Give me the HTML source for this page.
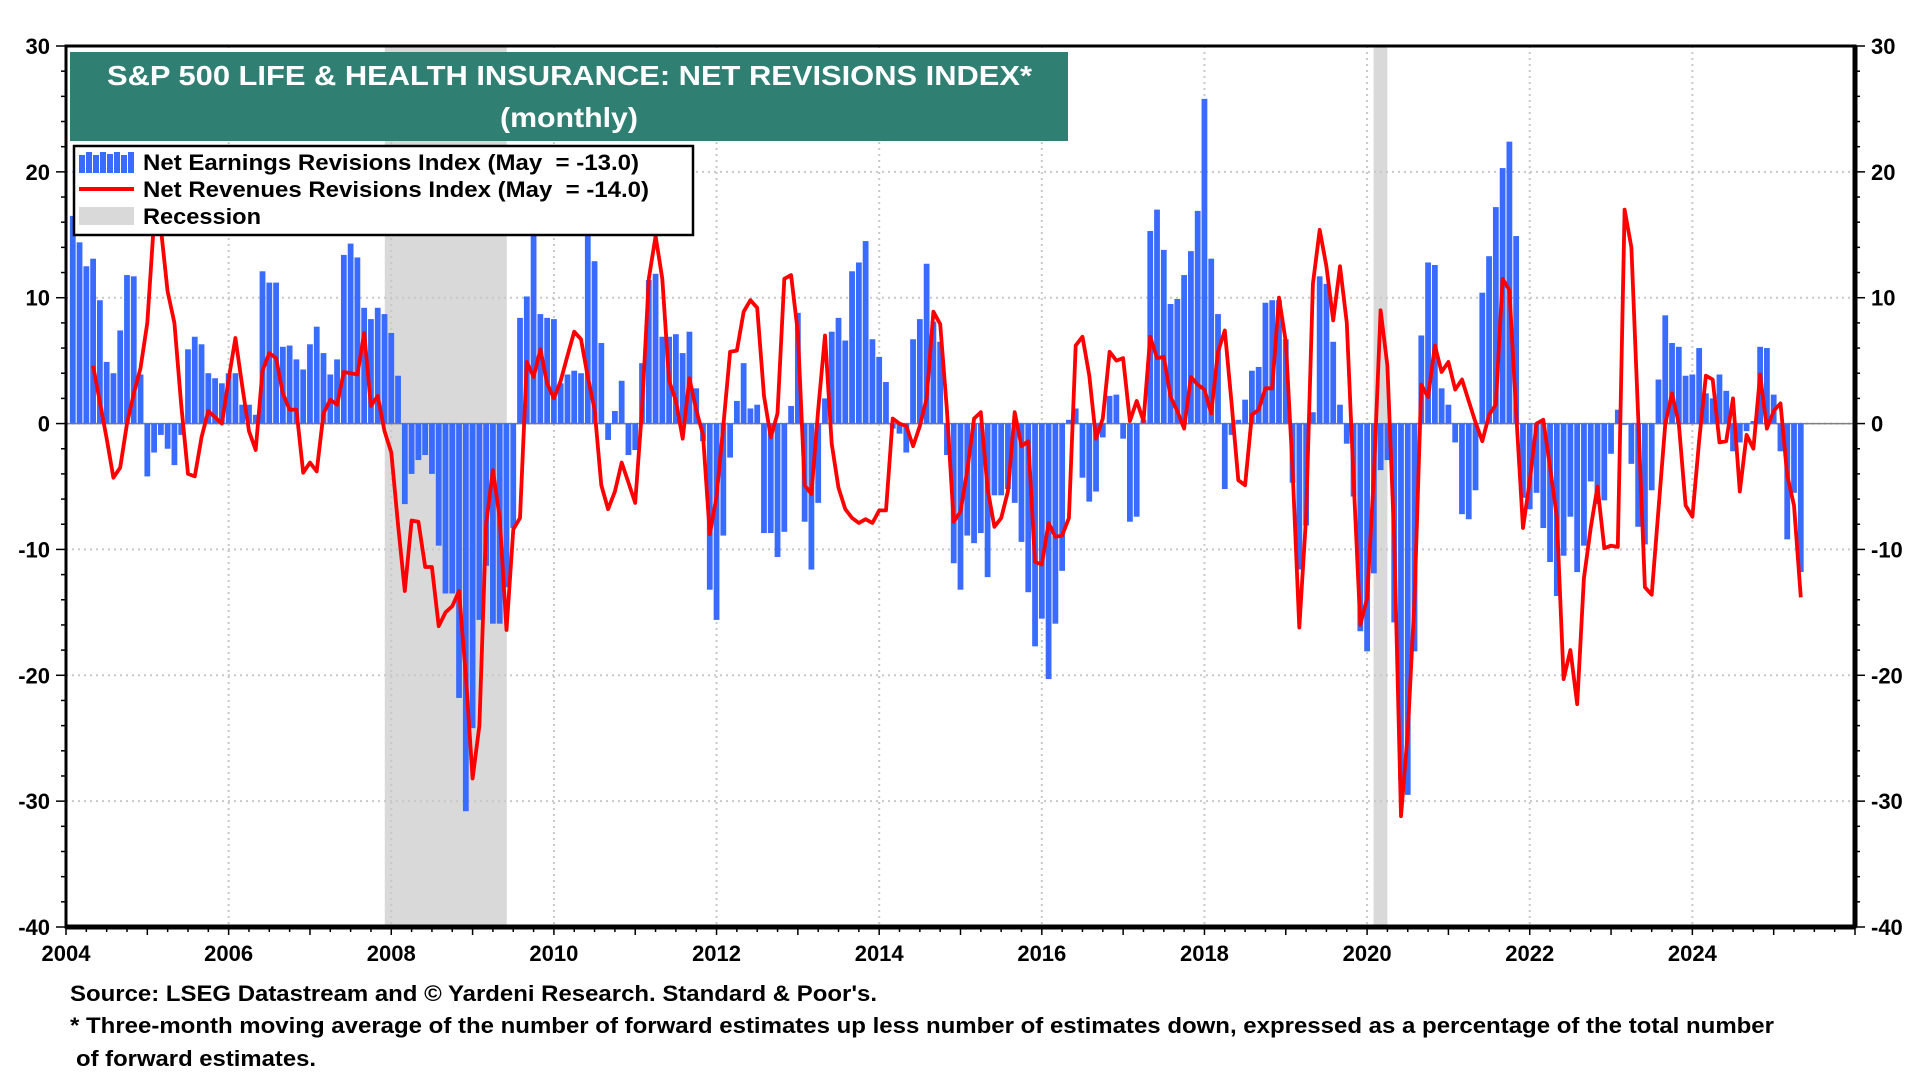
<!DOCTYPE html>
<html><head><meta charset="utf-8"><style>
html,body{margin:0;padding:0;background:#fff;}
svg{display:block;font-family:"Liberation Sans",Arial,sans-serif;}
</style></head><body>
<svg id="chart" width="1920" height="1080" viewBox="0 0 1920 1080">
<g id="recessions"></g>
<g id="grid"></g>
<line id="zeroline" stroke="#808080" stroke-width="1.5"/>
<g id="bars"></g>
<path id="revline" fill="none" stroke="#ff0000" stroke-width="3.8" stroke-linejoin="round"/>
<g id="axes"></g>
<g>
<rect x="70" y="52" width="998" height="89" fill="#2f7f72"/>
<text x="107" y="85" textLength="925" lengthAdjust="spacingAndGlyphs" fill="#fff" font-weight="bold" font-size="28">S&amp;P 500 LIFE &amp; HEALTH INSURANCE: NET REVISIONS INDEX*</text>
<text x="500" y="127" textLength="138" lengthAdjust="spacingAndGlyphs" fill="#fff" font-weight="bold" font-size="28">(monthly)</text>
</g>
<g>
<rect x="74" y="146" width="619" height="89" fill="#fff" stroke="#000" stroke-width="2.5"/>
<g fill="#3a6bff">
<rect x="79" y="155" width="6" height="18"/><rect x="86" y="152" width="6" height="21"/><rect x="93" y="155" width="6" height="18"/><rect x="100" y="152" width="6" height="21"/><rect x="107" y="154" width="6" height="19"/><rect x="114" y="152" width="6" height="21"/><rect x="121" y="155" width="6" height="18"/><rect x="128" y="152" width="6" height="21"/>
</g>
<text x="143" y="170" textLength="496" lengthAdjust="spacingAndGlyphs" font-weight="bold" font-size="22">Net Earnings Revisions Index (May &#160;= -13.0)</text>
<line x1="79" y1="189" x2="134" y2="189" stroke="#ff0000" stroke-width="4"/>
<text x="143" y="197" textLength="506" lengthAdjust="spacingAndGlyphs" font-weight="bold" font-size="22">Net Revenues Revisions Index (May &#160;= -14.0)</text>
<rect x="79" y="207" width="55" height="18" fill="#d9d9d9"/>
<text x="143" y="224" textLength="118" lengthAdjust="spacingAndGlyphs" font-weight="bold" font-size="22">Recession</text>
</g>
<g font-weight="bold" font-size="22">
<text x="70" y="1001" textLength="807" lengthAdjust="spacingAndGlyphs">Source: LSEG Datastream and © Yardeni Research. Standard &amp; Poor's.</text>
<text x="70" y="1033" textLength="1704" lengthAdjust="spacingAndGlyphs">* Three-month moving average of the number of forward estimates up less number of estimates down, expressed as a percentage of the total number</text>
<text x="76" y="1066" textLength="240" lengthAdjust="spacingAndGlyphs">of forward estimates.</text>
</g>
</svg>
<script>
// Data (monthly). earnings starts at month index 1 (Feb 2004); revenues starts at index 4.
const earnStart = 1;
const earnings = [16.5,14.4,12.5,13.1,9.8,4.9,4.0,7.4,11.8,11.7,3.9,-4.2,-2.3,-0.9,-2.0,-3.3,-0.9,5.9,6.9,6.3,4.0,3.6,3.2,4.0,4.0,1.5,1.5,0.7,12.1,11.2,11.2,6.1,6.2,5.1,4.3,6.3,7.7,5.6,3.9,5.1,13.4,14.3,13.2,9.2,8.3,9.2,8.7,7.2,3.8,-6.4,-4.0,-2.9,-2.5,-4.0,-9.7,-13.5,-13.5,-21.8,-30.8,-24.2,-15.6,-11.3,-15.9,-15.9,-13,-8.3,8.4,10.1,15.1,8.7,8.4,
8.3,3.2,3.9,4.2,4.0,15.5,12.9,6.4,-1.3,1.0,3.4,-2.5,-2.1,4.8,11.4,11.9,6.9,6.9,7.1,5.6,7.3,2.8,-1.4,-13.2,-15.6,-8.9,-2.7,1.8,4.8,1.2,1.5,-8.7,-8.7,-10.6,-8.6,1.4,8.8,-7.8,-11.6,-6.3,2.0,7.3,8.4,6.6,12.1,12.8,14.5,6.7,5.3,3.3,-0.4,-0.8,-2.3,6.7,8.3,12.7,8.1,6.5,-2.5,-11.1,-13.2,-8.9,-9.5,-8.7,
-12.2,-5.7,-5.7,-5.2,-6.3,-9.4,-13.4,-17.7,-15.5,-20.3,-15.9,-11.7,0.3,1.2,-4.3,-6.2,-5.4,-1.1,2.2,2.3,-1.2,-7.8,-7.4,0.3,15.3,17.0,13.8,9.5,9.9,11.8,13.7,16.9,25.8,13.1,8.7,-5.2,-0.9,0.3,1.9,4.2,4.5,9.6,9.8,9.8,6.7,-4.7,-11.6,-8.1,0.9,11.7,11.1,6.5,1.5,-1.6,-5.8,-16.5,-18.1,-11.9,-3.7,-2.9,-15.8,-28.3,-29.5,-18.1,
7.0,12.8,12.6,2.8,1.5,-1.5,-7.2,-7.6,-5.3,10.4,13.3,17.2,20.3,22.4,14.9,-5.9,-6.8,-5.5,-8.3,-11.0,-13.7,-10.5,-7.4,-11.8,-9.7,-4.6,-6.4,-6.1,-2.4,1.1,-0.1,-3.2,-8.2,-9.6,-5.3,3.5,8.6,6.4,6.1,3.8,3.9,6.0,2.4,2.0,3.9,2.6,-2.2,-1.5,-0.6,0.2,6.1,6.0,2.3,-2.2,-9.2,-5.5,-11.8];
const revStart = 4;
const revenues = [4.6,1.7,-1.2,-4.3,-3.5,0,2.4,4.4,8.0,16.2,15.5,10.5,8,1.5,-4.0,-4.2,-1.1,1.0,0.5,0,3.5,6.8,3.0,-0.6,-2.1,4.2,5.6,5.2,2.4,1.1,1.1,-3.9,-3.1,-3.8,0.8,1.9,1.5,4.1,4.0,3.9,7.2,1.4,2.2,-0.6,-2.3,-8,-13.3,-7.7,-7.8,-11.4,-11.4,-16.1,-15,-14.5,-13.3,-20,-28.2,-24,-8,-3.7,-7.5,-16.4,-8.4,-7.5,
4.9,3.7,5.9,3.2,2.0,3.4,5.4,7.3,6.7,3.7,1.1,-4.9,-6.8,-5.4,-3.1,-4.7,-6.3,1.1,11.5,14.9,11.5,3.4,1.8,-1.2,3.6,1.1,-0.9,-8.8,-5.8,-0.2,5.7,5.8,8.9,9.8,9.2,2.2,-1.1,0.8,11.5,11.8,7.2,-4.9,-5.6,1.1,7.0,-1.6,-5.1,-6.8,-7.5,-7.9,-7.6,-7.9,-6.9,-6.9,0.4,0.0,-0.2,-1.8,-0.2,2.0,8.9,7.9,1.1,-7.8,-7.0,-3.7,0.4,
0.9,-5.2,-8.2,-7.5,-5.4,0.9,-1.8,-1.4,-11.0,-11.2,-7.9,-9.0,-8.9,-7.5,6.2,6.9,3.8,-1.2,0.4,5.7,5.0,5.2,0.2,1.8,0.2,6.9,5.2,5.3,2.1,1.0,-0.4,3.7,3.1,2.7,0.8,5.7,7.4,1.6,-4.5,-4.9,0.7,1.1,2.8,2.8,10.0,6.5,-3.5,-16.2,-7.4,11.1,15.4,12.5,8.2,12.5,8.0,-4.3,-16.0,-13.9,-4.1,9.0,4.6,-9.1,-31.2,-24.5,
-14,3.1,2.1,6.2,4.1,4.9,2.7,3.5,1.8,0.1,-1.4,0.7,1.5,11.5,10.6,0.8,-8.3,-4.6,0.0,0.3,-3.5,-7.4,-20.3,-18.0,-22.3,-12.3,-8.3,-5.0,-9.9,-9.7,-9.8,17.0,14.0,0.5,-13.0,-13.6,-6.8,0.0,2.4,0.0,-6.5,-7.4,-1.4,3.8,3.5,-1.5,-1.4,2.0,-5.4,-0.9,-2.0,3.9,-0.4,1.0,1.6,-4.1,-6.5,-13.8];
const recessionStarts = [2007.92, 2020.08];
const recessionEnds = [2009.42, 2020.25];
const yTicks = [30,20,10,0,-10,-20,-30,-40];
const xTickYears = [2004,2006,2008,2010,2012,2014,2016,2018,2020,2022,2024];

const L=66,R=1855,T=46,B=927,X0=2004,X1=2026,Y0=-40,Y1=30;
const NS='http://www.w3.org/2000/svg';
function xs(t){return L+(t-X0)/(X1-X0)*(R-L);}
function ys(v){return B-(v-Y0)/(Y1-Y0)*(B-T);}
function mk(tag,attrs,parent){const e=document.createElementNS(NS,tag);for(const k in attrs)e.setAttribute(k,attrs[k]);parent.appendChild(e);return e;}

const rec=document.getElementById('recessions');
recessionStarts.forEach((s,i)=>{
  const r=mk('rect',{x:xs(s),y:T,width:xs(recessionEnds[i])-xs(s),height:B-T,fill:'#d9d9d9'},rec);
  
  
});

const grid=document.getElementById('grid');
yTicks.forEach(v=>{
  if(v===Y0||v===Y1)return;
  const g=mk('line',{x1:L,x2:R,y1:ys(v),y2:ys(v),stroke:'#c8c8c8','stroke-width':2,'stroke-dasharray':'2,4'},grid);
  
  
});
xTickYears.forEach(y=>{
  if(y===X0)return;
  const g=mk('line',{x1:xs(y),x2:xs(y),y1:T,y2:B,stroke:'#c8c8c8','stroke-width':2,'stroke-dasharray':'2,4'},grid);
  
  
});

const zl=document.getElementById('zeroline');
zl.setAttribute('x1',L);zl.setAttribute('x2',R);zl.setAttribute('y1',ys(0));zl.setAttribute('y2',ys(0));

const bars=document.getElementById('bars');
const bw=(R-L)/((X1-X0)*12);
earnings.forEach((v,i)=>{
  const t=X0+(earnStart+i)/12;
  const cx=xs(t);
  const y=Math.min(ys(v),ys(0)),h=Math.abs(ys(v)-ys(0));
  const b=mk('rect',{x:cx-bw/2+0.5,y:y,width:bw-1,height:Math.max(h,1),fill:'#3a6bff'},bars);
  
  
});

let d='';
revenues.forEach((v,i)=>{
  const t=X0+(revStart+i)/12;
  d+=(i?'L':'M')+xs(t).toFixed(1)+','+ys(v).toFixed(1);
});
document.getElementById('revline').setAttribute('d',d);

const ax=document.getElementById('axes');
mk('rect',{x:L,y:T,width:R-L,height:B-T,fill:'none',stroke:'#000','stroke-width':3},ax);
mk('line',{x1:R,x2:R,y1:T,y2:B,stroke:'#000','stroke-width':5},ax);
mk('line',{x1:L,x2:R,y1:B,y2:B,stroke:'#000','stroke-width':5},ax);
for(let v=Y0;v<=Y1;v+=2){
  const len=(v%10===0)?10:5;
  mk('line',{x1:L-len,x2:L,y1:ys(v),y2:ys(v),stroke:'#000','stroke-width':1.5},ax);
  mk('line',{x1:R,x2:R+len,y1:ys(v),y2:ys(v),stroke:'#000','stroke-width':1.5},ax);
}
for(let q=0;q<=(X1-X0)*4;q++){
  const x=xs(X0+q/4);
  mk('line',{x1:x,x2:x,y1:B,y2:B+(q%4===0?8:5),stroke:'#000','stroke-width':1.5},ax);
}
yTicks.forEach(v=>{
  const a=mk('text',{x:L-16,y:ys(v)+8,'text-anchor':'end','font-size':22,'font-weight':'bold'},ax);
  a.textContent=v;
  
  
  const b=mk('text',{x:R+16,y:ys(v)+8,'text-anchor':'start','font-size':22,'font-weight':'bold'},ax);
  b.textContent=v;
  
  
});
xTickYears.forEach(y=>{
  const a=mk('text',{x:xs(y),y:961,'text-anchor':'middle','font-size':22,'font-weight':'bold'},ax);
  a.textContent=y;
  
  
});
</script>
</body></html>
